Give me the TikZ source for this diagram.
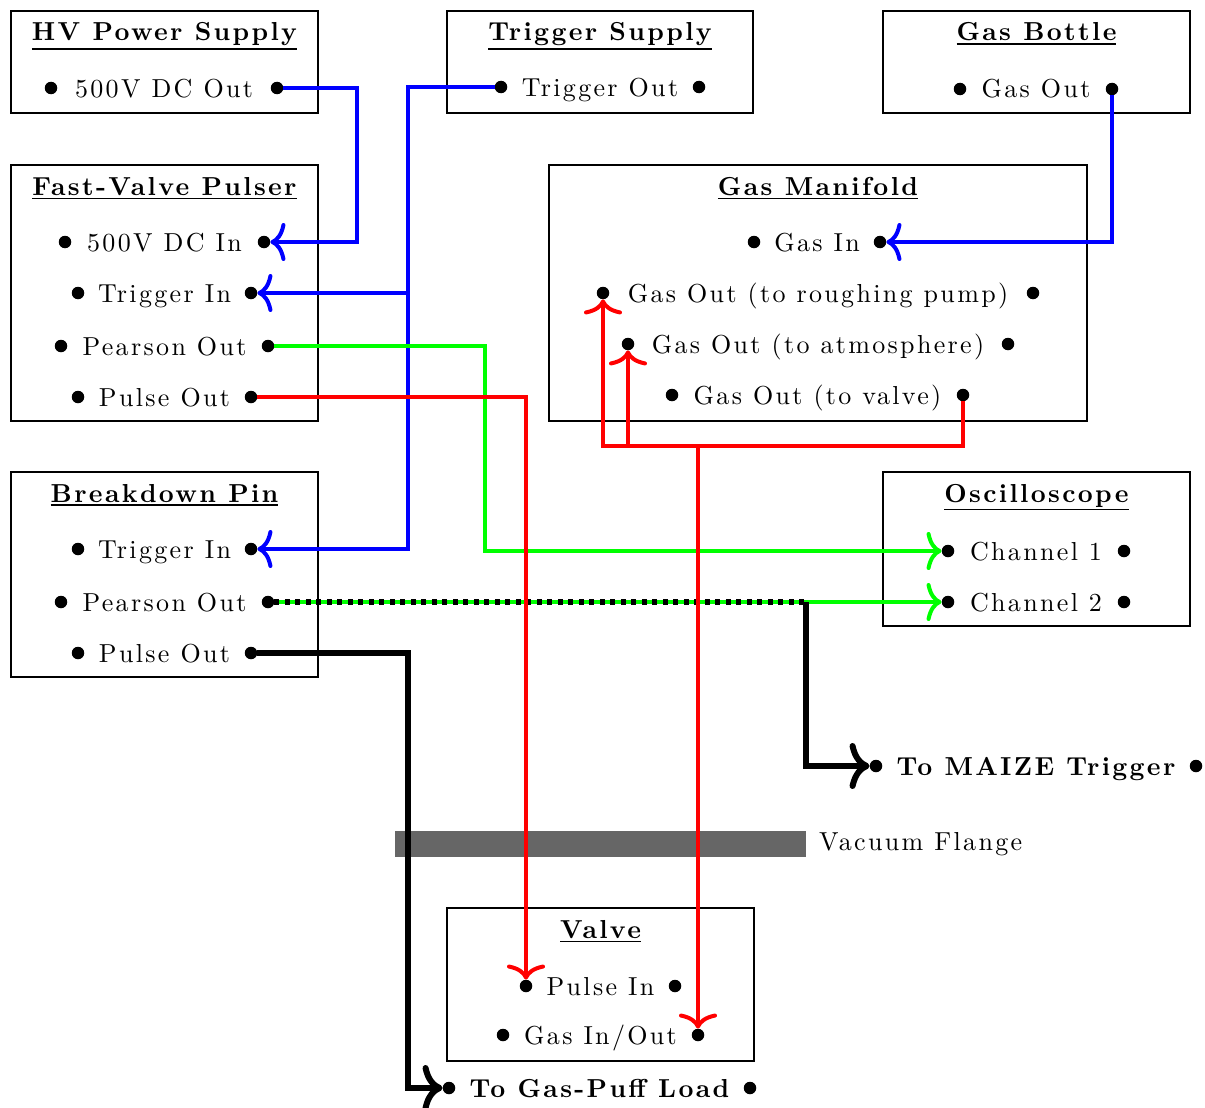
\documentclass[tikz,border=0pt]{standalone}
\usepackage{fontspec}
\setmainfont{lmroman10-regular.otf}[BoldFont=lmroman10-bold.otf,LetterSpace=9]
\usetikzlibrary{arrows.meta}
\newcommand\ulin[1]{\vtop{\hbox{#1}\kern2pt\hrule height 1.4pt}}
\newcommand\portrow[6][lbl]{%
  \node[pin] (#2L) at (#4,#3) {};
  \node[pin] (#2R) at (#5,#3) {};
  \node[#1] (#2) at ({(#4+#5)/2},{#3+9}) {#6};}
\begin{document}
\begin{tikzpicture}[x=1pt,y=-1pt,
  box/.style={draw, line width=1.6pt, inner sep=0pt},
  pin/.style={circle, fill=black, inner sep=0pt, minimum size=12.5pt},
  lbl/.style={font=\fontsize{26}{31}\selectfont, anchor=base, inner sep=0pt},
  blbl/.style={font=\fontsize{26}{31}\selectfont\bfseries, anchor=base, inner sep=0pt},
  ttl/.style={font=\fontsize{26}{31}\selectfont\bfseries, anchor=base, inner sep=0pt},
  tipc/.style={-{Computer Modern Rightarrow[length=15pt,width=38pt]}},
  tipk/.style={-{Computer Modern Rightarrow[length=20pt,width=46pt]}},
  bwire/.style={draw=blue, line width=4pt, tipc},
  gwire/.style={draw={rgb,255:red,0;green,255;blue,0}, line width=4pt},
  rwire/.style={draw=red, line width=4pt},
  kwire/.style={draw=black, line width=6pt},
  kdots/.style={draw=black, line width=6pt, dash pattern=on 5pt off 5.5pt}]
\useasboundingbox (0,0) rectangle (1205,1108);

% vacuum flange
\node[fill={rgb,255:red,102;green,102;blue,102}, inner sep=0pt, minimum width=411pt, minimum height=26pt] (flange) at (600.5,844) {};
\node[lbl, anchor=base west] (flangelbl) at (819,850.5) {Vacuum Flange};

% boxes
\node[box, minimum width=307pt, minimum height=102pt] (hv) at (164.5,62) {};
\node[box, minimum width=306pt, minimum height=102pt] (ts) at (600,62) {};
\node[box, minimum width=307pt, minimum height=102pt] (gb) at (1036.5,62) {};
\node[box, minimum width=307pt, minimum height=256pt] (fvp) at (164.5,293) {};
\node[box, minimum width=538pt, minimum height=256pt] (gm) at (818,293) {};
\node[box, minimum width=307pt, minimum height=205pt] (bp) at (164.5,574.5) {};
\node[box, minimum width=307pt, minimum height=154pt] (osc) at (1036.5,549) {};
\node[box, minimum width=307pt, minimum height=153pt] (valve) at (600.5,984.5) {};

% titles
\node[ttl] (hvt) at (164.5,41) {\ulin{HV Power Supply}};
\node[ttl] (tst) at (600,41) {\ulin{Trigger Supply}};
\node[ttl] (gbt) at (1036.5,41) {\ulin{Gas Bottle}};
\node[ttl] (fvpt) at (164.5,195.5) {\ulin{Fast-Valve Pulser}};
\node[ttl] (gmt) at (818,195.5) {\ulin{Gas Manifold}};
\node[ttl] (bpt) at (164.5,502) {\ulin{Breakdown Pin}};
\node[ttl] (osct) at (1036.5,502) {\ulin{Oscilloscope}};
\node[ttl] (valvet) at (600.5,938.5) {\ulin{Valve}};

% ports
\portrow{hvOut}{88}{51}{277}{500V DC Out}
\portrow{tsOut}{87}{501}{699}{Trigger Out}
\portrow{gbOut}{89}{960}{1112}{Gas Out}
\portrow{fvpDC}{242}{65}{264}{500V DC In}
\portrow{fvpTrig}{293}{78}{251}{Trigger In}
\portrow{fvpPear}{346}{61}{268}{Pearson Out}
\portrow{fvpPulse}{397}{78}{251}{Pulse Out}
\portrow{gmIn}{242}{754}{880}{Gas In}
\portrow{gmRough}{293}{603}{1033}{Gas Out (to roughing pump)}
\portrow{gmAtm}{344}{628}{1008}{Gas Out (to atmosphere)}
\portrow{gmValve}{395}{672}{963}{Gas Out (to valve)}
\portrow{bpTrig}{549}{78}{251}{Trigger In}
\portrow{bpPear}{602}{61}{268}{Pearson Out}
\portrow{bpPulse}{653}{78}{251}{Pulse Out}
\portrow{oscA}{551}{948}{1124}{Channel 1}
\portrow{oscB}{602}{948}{1124}{Channel 2}
\portrow{vPulse}{986}{526}{675}{Pulse In}
\portrow{vGas}{1035}{503}{698}{Gas In/Out}
\portrow[blbl]{maize}{766}{876}{1196}{To MAIZE Trigger}
\portrow[blbl]{gpl}{1088}{449}{750}{To Gas-Puff Load}

% bend points
\coordinate (b1) at (357,242);
\coordinate (b2) at (408,549);
\coordinate (b3) at (408,293);
\coordinate (g1) at (485,551);
\coordinate (r1) at (603,446);
\coordinate (m1) at (806,602);
\coordinate (k1) at (408,1088);

% blue
\draw[bwire] (hvOutR) -| (b1) -- (fvpDCR);
\draw[bwire] (tsOutL) -| (b2) -- (bpTrigR);
\draw[bwire] (b3) -- (fvpTrigR);
\draw[bwire] (gbOutR) |- (gmInR);

% green
\draw[gwire, tipc] (fvpPearR) -| (g1) -- (oscAL);
\draw[gwire, tipc] (bpPearR) -- (oscBL);
\draw[kdots] (bpPearR.east) -- (m1);

% red
\draw[rwire, tipc] (fvpPulseR) -| (vPulseL);
\draw[rwire, tipc] (gmValveR) |- (r1) -- (gmRoughL);
\draw[rwire, tipc] (gmAtmL |- r1) -- (gmAtmL);
\draw[rwire, tipc] (vGasR |- r1) -- (vGasR);

% black
\draw[kwire, tipk] (m1) |- (maizeL);
\draw[kwire, tipk] (bpPulseR) -| (k1) -- (gplL);
\end{tikzpicture}
\end{document}
